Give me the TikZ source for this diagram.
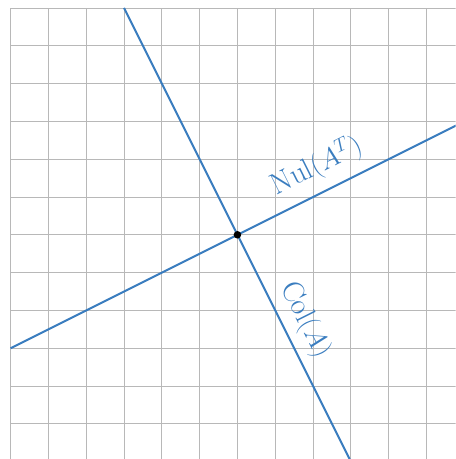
\documentclass[tikz,border=0pt]{standalone}
\usepackage{xcolor}
\usepackage{tikz}
\usetikzlibrary{positioning,calc}
\definecolor{spBlue}{HTML}{3A7DBF}
\definecolor{spGrid}{HTML}{B8B8B8}
\tikzset{
  grid line/.style={draw=spGrid,line width=0.6pt},
  space line/.style={draw=spBlue,line width=1.5pt},
  space label/.style={text=spBlue,font=\fontsize{22.5}{27}\selectfont,sloped},
  origin dot/.style={circle,fill=black,inner sep=0pt,minimum size=2mm}
}
\begin{document}
\begin{tikzpicture}
\useasboundingbox (-6.28,-5.93) rectangle (5.77,6.21);
\clip (-6.28,-5.93) rectangle (5.77,6.21);
\draw[grid line] (-6,-6) grid (6,6);
\coordinate (nulStart) at (-6,-3);
\coordinate (nulEnd) at (6,3);
\coordinate (colStart) at (-3,6);
\coordinate (colEnd) at (3,-6);
\draw[space line] (nulStart) -- node[space label,pos=0.70,above=0.15cm] (nulLabel) {Nul$(A^T)$} (nulEnd);
\draw[space line] (colStart) -- node[space label,pos=0.71,above=0.08cm] (colLabel) {Col$(A)$} (colEnd);
\node[origin dot] (origin) at (0,0) {};
\end{tikzpicture}
\end{document}
